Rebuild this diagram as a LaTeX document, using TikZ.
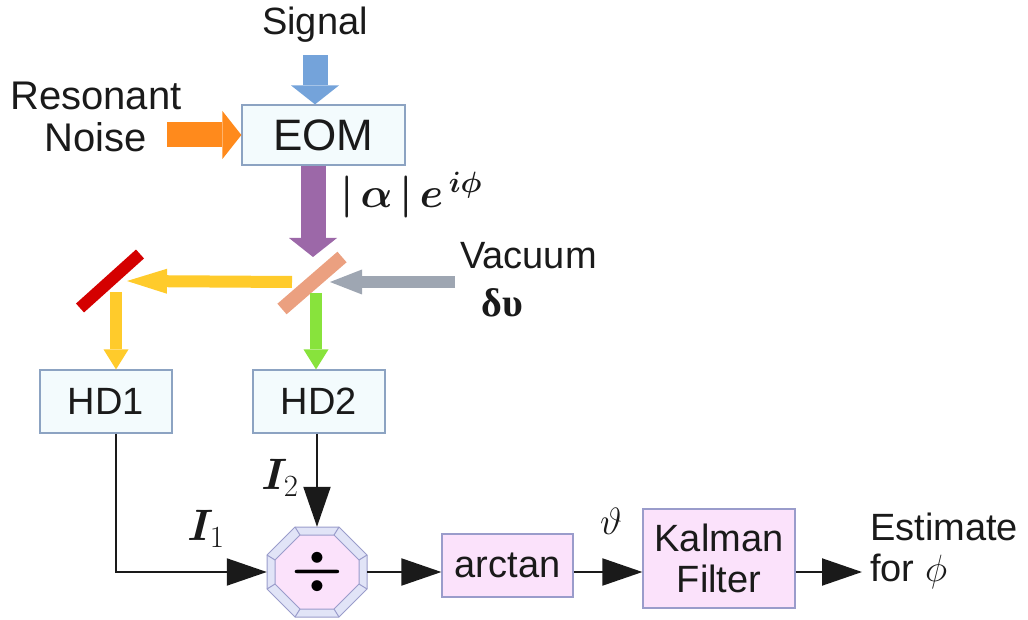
\RequirePackage{fix-cm}
\documentclass[tikz,border=0pt]{standalone}
\usepackage{amsmath}
\usepackage{bm}
\usepackage[no-math]{fontspec}
\setmainfont{Liberation Sans}
\newfontfamily\greekserif{Liberation Serif}
\usetikzlibrary{arrows.meta}

\definecolor{sigblue}{HTML}{74A3DA}
\definecolor{noiseorange}{HTML}{FF8A1C}
\definecolor{fieldpurple}{HTML}{9C68A8}
\definecolor{splitsalmon}{HTML}{EBA080}
\definecolor{mirrorred}{HTML}{D40000}
\definecolor{beamyellow}{HTML}{FFCB2B}
\definecolor{vacgray}{HTML}{9EA6B2}
\definecolor{beamgreen}{HTML}{88E33C}
\definecolor{boxfill}{HTML}{F3FBFD}
\definecolor{boxedge}{HTML}{8CA3C2}
\definecolor{procfill}{HTML}{FBE2FB}
\definecolor{procedge}{HTML}{9A9CCB}
\definecolor{bevel}{HTML}{E1E4F7}
\definecolor{ink}{HTML}{1A1A1A}

\tikzset{
  lbl/.style={font=\fontsize{38}{41}\selectfont, text=ink, inner sep=0pt},
  detbox/.style={lbl, draw=boxedge, fill=boxfill, line width=1.2pt, minimum width=132pt, minimum height=63pt},
  procbox/.style={lbl, draw=procedge, fill=procfill, line width=1.2pt, align=center},
  bigbeam/.style={line width=25pt, -{Triangle[length=19pt,width=48pt,line width=0pt]}},
  smallbeam/.style={line width=12pt, -{Triangle[length=#1,width=25pt,line width=0pt]}},
  smallbeam/.default=20pt,
  sig/.style={line width=2pt, ink, -{Triangle[length=40pt,width=27pt]}}
}

\begin{document}
\begin{tikzpicture}[x=1pt,y=-1pt]
    \def\octOuter{(-22,-45) -- (22,-45) -- (50,-17) -- (50,17) -- (22,45) -- (-22,45) -- (-50,17) -- (-50,-17) -- cycle}
    \def\octInner{(-17,-37) -- (17,-37) -- (42,-12) -- (42,12) -- (17,37) -- (-17,37) -- (-42,12) -- (-42,-12) -- cycle}
    \useasboundingbox (0,0) rectangle (1028,620);
    % inputs and modulator
    \node[lbl, anchor=base] (signal) at (315,35) {Signal};
    \node[lbl, font=\fontsize{40}{42}\selectfont, align=center] (noise) at (96,117) {Resonant\\Noise};
    \node[detbox, font=\fontsize{44}{44}\selectfont, minimum width=163pt, minimum height=60pt] (eom) at (323.5,135) {EOM};
    \coordinate (noisein) at (167,135);
    \draw[bigbeam, sigblue, shorten <=12pt] (signal.south) -- (signal.south |- eom.north);
    \draw[bigbeam, noiseorange] (noisein) -- (eom.west);
    \node[lbl, font=\fontsize{42}{44}\selectfont, anchor=base west] (field) at (340,208) {$\bm{\lvert\,\alpha\,\rvert\,e^{\,i\phi}}$};
    % beam splitter and mirror
    \coordinate (bs) at (313,282);
    \coordinate (mir) at (110,281);
    \coordinate (vacin) at (455,282);
    \draw[bigbeam, fieldpurple] (eom.south -| bs) -- ([shift={(0,-25)}]bs);
    \draw[smallbeam=40pt, beamyellow] ([shift={(-21,0)}]bs) -- ([shift={(17,0)}]mir);
    \draw[smallbeam=32pt, vacgray] (vacin) -- ([shift={(17,0)}]bs);
    \draw[line width=14pt, splitsalmon] ([shift={(-31,27)}]bs) -- ([shift={(29,-25)}]bs);
    \draw[line width=12pt, mirrorred] ([shift={(-30,27)}]mir) -- ([shift={(30,-27)}]mir);
    \node[lbl, anchor=west] (vac) at (460,256) {Vacuum};
    \node[lbl, font=\fontsize{40}{44}\selectfont\greekserif\bfseries] (dv) at (502,303) {δυ};
    % detectors
    \node[detbox] (hd1) at (106,401.5) {HD1};
    \node[detbox] (hd2) at (319,401.5) {HD2};
    \draw[smallbeam, beamyellow] ([shift={(6,11)}]mir) -- ([shift={(10,0)}]hd1.north);
    \draw[smallbeam, beamgreen] ([shift={(3,11)}]bs) -- ([shift={(-3,0)}]hd2.north);
    % signal processing
    \coordinate (divc) at (317,572);
    \filldraw[fill=bevel, draw=procedge, line width=1pt, shift={(divc)}] \octOuter;
    \filldraw[fill=procfill, draw=procedge, line width=1pt, shift={(divc)}] \octInner;
    \foreach \ox/\oy/\ix/\iy in {-22/-45/-17/-37, 22/-45/17/-37, 50/-17/42/-12, 50/17/42/12, 22/45/17/37, -22/45/-17/37, -50/17/-42/12, -50/-17/-42/-12}
        \draw[procedge, line width=1pt, shift={(divc)}] (\ox,\oy) -- (\ix,\iy);
    \node[minimum width=100pt, minimum height=90pt, inner sep=0pt] (div) at (divc) {\fontsize{58}{58}\selectfont$\bm{\div}$};
    \node[procbox, minimum width=131pt, minimum height=63pt] (arctan) at (507.5,565.5) {arctan};
    \node[procbox, minimum width=152pt, minimum height=99pt] (kalman) at (719,558.5) {Kalman\\Filter};
    \node[lbl, anchor=west, align=left, inner xsep=8pt] (est) at (862,551) {Estimate\\for $\phi$};
    \draw[sig] ([shift={(10,0)}]hd1.south) |- (div.west);
    \draw[sig] (hd2.south -| div.north) -- (div.north);
    \draw[sig] (div.east) -- (div.east -| arctan.west);
    \draw[sig] (div.east -| arctan.east) -- (div.east -| kalman.west);
    \draw[sig] (div.east -| kalman.east) -- (div.east -| est.west);
    \node[lbl, font=\fontsize{44}{44}\selectfont] (ione) at (206,529) {$\bm{I}_1$};
    \node[lbl, font=\fontsize{44}{44}\selectfont] (itwo) at (280,478) {$\bm{I}_2$};
    \node[lbl] (theta) at (611,521) {$\vartheta$};
\end{tikzpicture}
\end{document}
